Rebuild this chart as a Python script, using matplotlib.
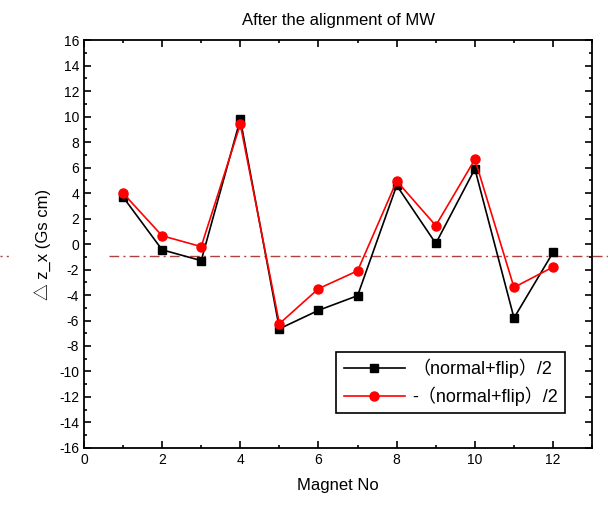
import numpy as np
import matplotlib
matplotlib.use("Agg")
import matplotlib.pyplot as plt
from matplotlib.ticker import MultipleLocator

plt.rcParams['font.family'] = ['Liberation Sans', 'Noto Sans CJK SC', 'DejaVu Sans']
plt.rcParams['axes.unicode_minus'] = False

magnet_no = [1, 2, 3, 4, 5, 6, 7, 8, 9, 10, 11, 12]
pos_half = [3.7, -0.45, -1.3, 9.8, -6.65, -5.2, -4.05, 4.6, 0.05, 5.9, -5.8, -0.65]
neg_half = [4.0, 0.65, -0.2, 9.4, -6.25, -3.5, -2.1, 4.95, 1.45, 6.65, -3.4, -1.8]
ref_level = -0.95

fig = plt.figure(figsize=(6.08, 5.09), dpi=100)
ax = fig.add_axes([0.138, 0.120, 0.836, 0.801])

# reference line runs past the frame
ax.plot([0.65, 13.4], [ref_level, ref_level], color="#b04040", lw=1.0,
        ls=(0, (7, 3, 1.5, 3)), clip_on=False, zorder=1)
ax.plot([-2.15, -1.9], [ref_level, ref_level], color="#b04040", lw=1.0,
        ls=(0, (1.5, 3)), clip_on=False, zorder=1)

ax.plot(magnet_no, pos_half, color="black", lw=1.2, marker="s", ms=6,
        label="（normal+flip）/2", zorder=3)
ax.plot(magnet_no, neg_half, color="red", lw=1.2, marker="o", ms=6.5,
        label="-（normal+flip）/2", zorder=3)

ax.set_xlim(0, 13)
ax.set_ylim(-16, 16)
ax.xaxis.set_major_locator(MultipleLocator(2))
ax.xaxis.set_minor_locator(MultipleLocator(1))
ax.yaxis.set_major_locator(MultipleLocator(2))
ax.yaxis.set_minor_locator(MultipleLocator(1))
ax.tick_params(which="both", direction="in", top=True, right=True, labelsize=10, width=1.2)
ax.tick_params(which="major", length=5)
ax.tick_params(which="minor", length=2.5)
for s in ax.spines.values():
    s.set_linewidth(1.3)

ax.set_title("After the alignment of MW", fontsize=12, pad=11)
ax.set_xlabel("Magnet No", fontsize=12, labelpad=8)
ax.set_ylabel("△ z_x (Gs cm)", fontsize=12, labelpad=6)

leg = ax.legend(loc="lower right", bbox_to_anchor=(0.947, 0.085), fontsize=13,
                frameon=True, fancybox=False, edgecolor="black", framealpha=1,
                handlelength=3.4, handletextpad=0.4, borderpad=0.4,
                labelspacing=0.45, borderaxespad=0)
leg.get_frame().set_linewidth(1.2)

fig.savefig("out.png", dpi=100)
